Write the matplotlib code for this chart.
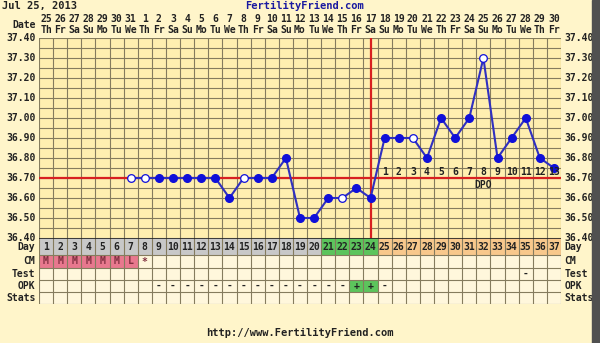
import numpy as np
import matplotlib.pyplot as plt
from matplotlib.patches import Rectangle

# datos del ciclo
days = list(range(1, 38))
dates = ['25', '26', '27', '28', '29', '30', '31'] + [str(d) for d in range(1, 31)]
weekdays = ['Th', 'Fr', 'Sa', 'Su', 'Mo', 'Tu', 'We'] * 6
weekdays = weekdays[:37]
temps = [None, None, None, None, None, None,
         36.70, 36.70, 36.70, 36.70, 36.70, 36.70, 36.70, 36.60, 36.70, 36.70,
         36.70, 36.80, 36.50, 36.50, 36.60, 36.60, 36.65, 36.60, 36.90, 36.90,
         36.90, 36.80, 37.00, 36.90, 37.00, 37.30, 36.80, 36.90, 37.00, 36.80,
         36.75]
open_days = [7, 8, 15, 22, 27, 32]
coverline = 36.70
ovulation_day = 24
dpo_labels = [str(i) for i in range(1, 14)]
cm = ['M', 'M', 'M', 'M', 'M', 'M', 'L', '*'] + [''] * 29
test = [''] * 34 + ['-'] + [''] * 2
opk = [''] * 8 + ['-'] * 14 + ['+', '+', '-'] + [''] * 12
row_names = ['Day', 'CM', 'Test', 'OPK', 'Stats']
yticks = [37.40, 37.30, 37.20, 37.10, 37.00, 36.90, 36.80, 36.70, 36.60, 36.50, 36.40]

# colores
bg = '#FFF5CA'
plot_bg = '#FFEFB0'
cell_bg = '#FFF7DC'
grid_c = '#857C5E'
blue = '#1010D8'
red = '#D82020'
fnt = dict(family='DejaVu Sans Mono', fontweight='bold', fontsize=7, color='#222222')

W, H = 600, 343
fig = plt.figure(figsize=(6, 3.43), dpi=100, facecolor=bg)

# grafico de temperatura
ax = fig.add_axes([39 / W, 1 - 238 / H, 522 / W, 200 / H])
ax.set_facecolor(plot_bg)
ax.set_xlim(0.5, 37.5)
ax.set_ylim(36.40, 37.40)
for x in np.arange(0.5, 38, 1):
    ax.axvline(x, color=grid_c, lw=0.8, zorder=1)
for y in np.arange(36.40, 37.41, 0.05):
    ax.axhline(y, color=grid_c, lw=0.8, zorder=1)
for s in ax.spines.values():
    s.set_visible(False)
ax.set_xticks([])
ax.set_yticks([])

ax.axhline(coverline, color=red, lw=1.6, zorder=2)
ax.axvline(ovulation_day, color=red, lw=1.6, zorder=2)

td = [d for d, t in zip(days, temps) if t is not None]
tt = [t for t in temps if t is not None]
ax.plot(td, tt, color='#3030C0', lw=1.5, zorder=3)
fd = [d for d, t in zip(td, tt) if d not in open_days]
ft = [t for d, t in zip(td, tt) if d not in open_days]
od = [d for d, t in zip(td, tt) if d in open_days]
ot = [t for d, t in zip(td, tt) if d in open_days]
ax.plot(fd, ft, 'o', color=blue, ms=5.5, zorder=4, ls='none')
ax.plot(od, ot, 'o', mfc='white', mec=blue, mew=0.9, ms=5.5, zorder=4, ls='none')

for i, lab in enumerate(dpo_labels):
    ax.text(ovulation_day + 1 + i, 36.73, lab, ha='center', va='center', zorder=5, **fnt)
ax.text(32, 36.665, 'DPO', ha='center', va='center', zorder=5, **fnt)

for y in yticks:
    ax.text(0.5 - 0.25, y, f'{y:.2f}', ha='right', va='center', clip_on=False, **fnt)
    ax.text(37.5 + 0.25, y, f'{y:.2f}', ha='left', va='center', clip_on=False, **fnt)

# cabecera de fechas
xt = ax.get_xaxis_transform()
for d, dt, wd in zip(days, dates, weekdays):
    ax.text(d, 1.095, dt, transform=xt, ha='center', va='center', **fnt)
    ax.text(d, 1.04, wd, transform=xt, ha='center', va='center', **fnt)
ax.text(0.25, 1.065, 'Date', transform=xt, ha='right', va='center', **fnt)

# tabla inferior
tab = fig.add_axes([39 / W, 1 - 304 / H, 522 / W, 66 / H])
tab.set_facecolor(cell_bg)
tab.set_xlim(0.5, 37.5)
row_edges = [0, 17, 30, 42, 54, 66]
tab.set_ylim(row_edges[-1], row_edges[0])
tab.set_xticks([])
tab.set_yticks([])
for s in tab.spines.values():
    s.set_visible(False)

day_colors = ['#C8C8C8'] * 20 + ['#5CC45C'] * 4 + ['#F8C88C'] * 13
tab.bar(days, row_edges[1] - row_edges[0], bottom=row_edges[0], width=1, color=day_colors)
cm_colors = ['#E8788E' if c in ('M', 'L') else cell_bg for c in cm]
tab.bar(days, row_edges[2] - row_edges[1], bottom=row_edges[1], width=1, color=cm_colors)
opk_colors = ['#5CC45C' if o == '+' else cell_bg for o in opk]
tab.bar(days, row_edges[4] - row_edges[3], bottom=row_edges[3], width=1, color=opk_colors)

for x in np.arange(0.5, 38, 1):
    tab.axvline(x, color=grid_c, lw=0.8)
for y in row_edges[1:]:
    tab.axhline(y, color=grid_c, lw=0.8)
tab.axhline(0, color='#222222', lw=1.2)

rows = [[str(d) for d in days], cm, test, opk, [''] * 37]
for r, vals in enumerate(rows):
    yc = (row_edges[r] + row_edges[r + 1]) / 2
    for d, v in zip(days, vals):
        if v:
            c = '#803040' if r == 1 else '#222222'
            tab.text(d, yc, v, ha='center', va='center',
                     **{**fnt, 'color': c})
    tab.text(0.25, yc, row_names[r], ha='right', va='center', clip_on=False, **fnt)
    tab.text(37.75, yc, row_names[r], ha='left', va='center', clip_on=False, **fnt)

# textos generales
fig.text(2 / W, 1 - 1 / H, 'Jul 25, 2013', ha='left', va='top', **{**fnt, 'fontsize': 7.5})
fig.text(305 / W, 1 - 1 / H, 'FertilityFriend.com', ha='center', va='top',
         **{**fnt, 'fontsize': 7.5, 'color': '#1A1AA0'})
fig.text(300 / W, 1 - 333 / H, 'http://www.FertilityFriend.com', ha='center', va='center',
         **{**fnt, 'fontsize': 7.5})

# borde oscuro a la derecha
fig.patches.append(Rectangle((592 / W, 0), 8 / W, 1, transform=fig.transFigure,
                             color='#505050', zorder=10))

fig.savefig('out.png', dpi=100, facecolor=bg)
